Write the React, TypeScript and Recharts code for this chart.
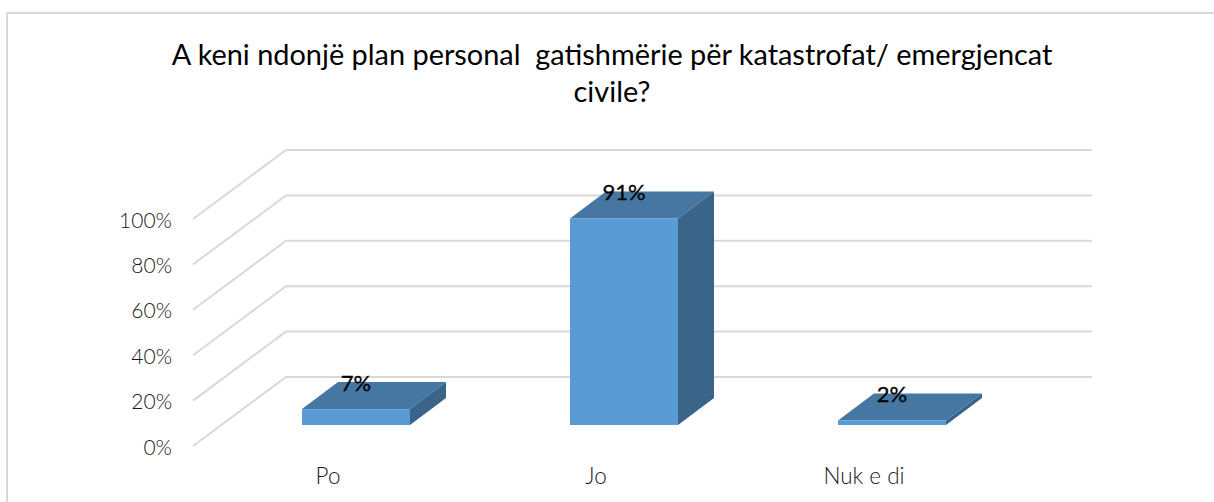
import * as React from 'react'
import { Bar, BarChart, CartesianGrid, LabelList, XAxis, YAxis } from 'recharts'

const categories = ['Po', 'Jo', 'Nuk e di']
const shares = [7, 91, 2]
const yTicks = [0, 20, 40, 60, 80, 100]
const titleLines = ['A keni ndonjë plan personal  gatishmërie për katastrofat/ emergjencat', 'civile?']

const data = categories.map((name, i) => ({ name, share: shares[i] }))

const FONT = 'Lato, "Open Sans", sans-serif'
const GRID = '#d9d9d9'

// the fake 3D depth: bars stand on the floor, the wall sits behind, the axes in front
const BAR_DEPTH = { dx: 36, dy: -27 }
const WALL = { dx: 64, dy: -48 }
const FRONT = { dx: -29, dy: 21 }

function Box3D({ x, y, width, height }: any) {
  const { dx, dy } = BAR_DEPTH
  const right = x + width
  const bottom = y + height
  return (
    <g>
      <polygon points={`${x},${y} ${x + dx},${y + dy} ${right + dx},${y + dy} ${right},${y}`} fill="#4676a2" />
      <polygon points={`${right},${y} ${right + dx},${y + dy} ${right + dx},${bottom + dy} ${right},${bottom}`} fill="#3a6488" />
      <rect x={x} y={y} width={width} height={height} fill="#5b9bd5" />
    </g>
  )
}

function GridLine({ x1, x2, y1 }: any) {
  const points = [
    `${x1 + FRONT.dx},${y1 + FRONT.dy}`,
    `${x1 + WALL.dx},${y1 + WALL.dy}`,
    `${x2 + WALL.dx + 2},${y1 + WALL.dy}`,
  ].join(' ')
  return <polyline points={points} fill="none" stroke={GRID} strokeWidth={2} />
}

function YTick({ x, y, payload }: any) {
  return (
    <text x={x} y={y + 21} textAnchor="end" dominantBaseline="central" fontFamily={FONT} fontWeight={300} fontSize={21} fill="#1a1a1a">
      {`${payload.value}%`}
    </text>
  )
}

function XTick({ x, y, payload }: any) {
  return (
    <text x={x + FRONT.dx + 1} y={y + 42} textAnchor="middle" dominantBaseline="central" fontFamily={FONT} fontWeight={300} fontSize={22.5} fill="#1a1a1a">
      {payload.value}
    </text>
  )
}

export default function App() {
  return (
    <div style={{ position: 'absolute', left: 0, top: 0, width: 1214, height: 502, background: '#fff', overflow: 'hidden' }}>
      <div
        style={{
          position: 'absolute',
          left: 6,
          top: 12,
          width: 1208,
          height: 490,
          borderTop: `2px solid ${GRID}`,
          borderLeft: `2px solid ${GRID}`,
          boxSizing: 'border-box',
        }}
      />
      <div
        style={{
          position: 'absolute',
          left: 0,
          top: 35,
          width: 1224,
          textAlign: 'center',
          fontFamily: FONT,
          fontSize: 28.9,
          lineHeight: '37px',
          color: '#000',
          whiteSpace: 'pre',
        }}
      >
        {titleLines.map((line) => (
          <div key={line}>{line}</div>
        ))}
      </div>
      <BarChart
        width={1214}
        height={502}
        data={data}
        margin={{ top: 198, right: 188, bottom: 0, left: 0 }}
        barCategoryGap="20%"
        style={{ position: 'absolute', left: 0, top: 0 }}
      >
        <CartesianGrid vertical={false} horizontal={(props: any) => <GridLine key={props.y1} {...props} />} />
        <XAxis dataKey="name" height={77} axisLine={false} tickLine={false} tick={<XTick />} interval={0} />
        <YAxis
          width={222}
          domain={[0, 100]}
          ticks={yTicks}
          axisLine={false}
          tickLine={false}
          tickMargin={44}
          tick={<YTick />}
        />
        <Bar dataKey="share" barSize={108} shape={<Box3D />} isAnimationActive={false}>
          <LabelList
            dataKey="share"
            position="top"
            offset={18}
            formatter={(v: any) => `${v}%`}
            style={{ fontFamily: FONT, fontSize: 22, fill: '#000', stroke: '#000', strokeWidth: 0.3 }}
          />
        </Bar>
      </BarChart>
    </div>
  )
}
